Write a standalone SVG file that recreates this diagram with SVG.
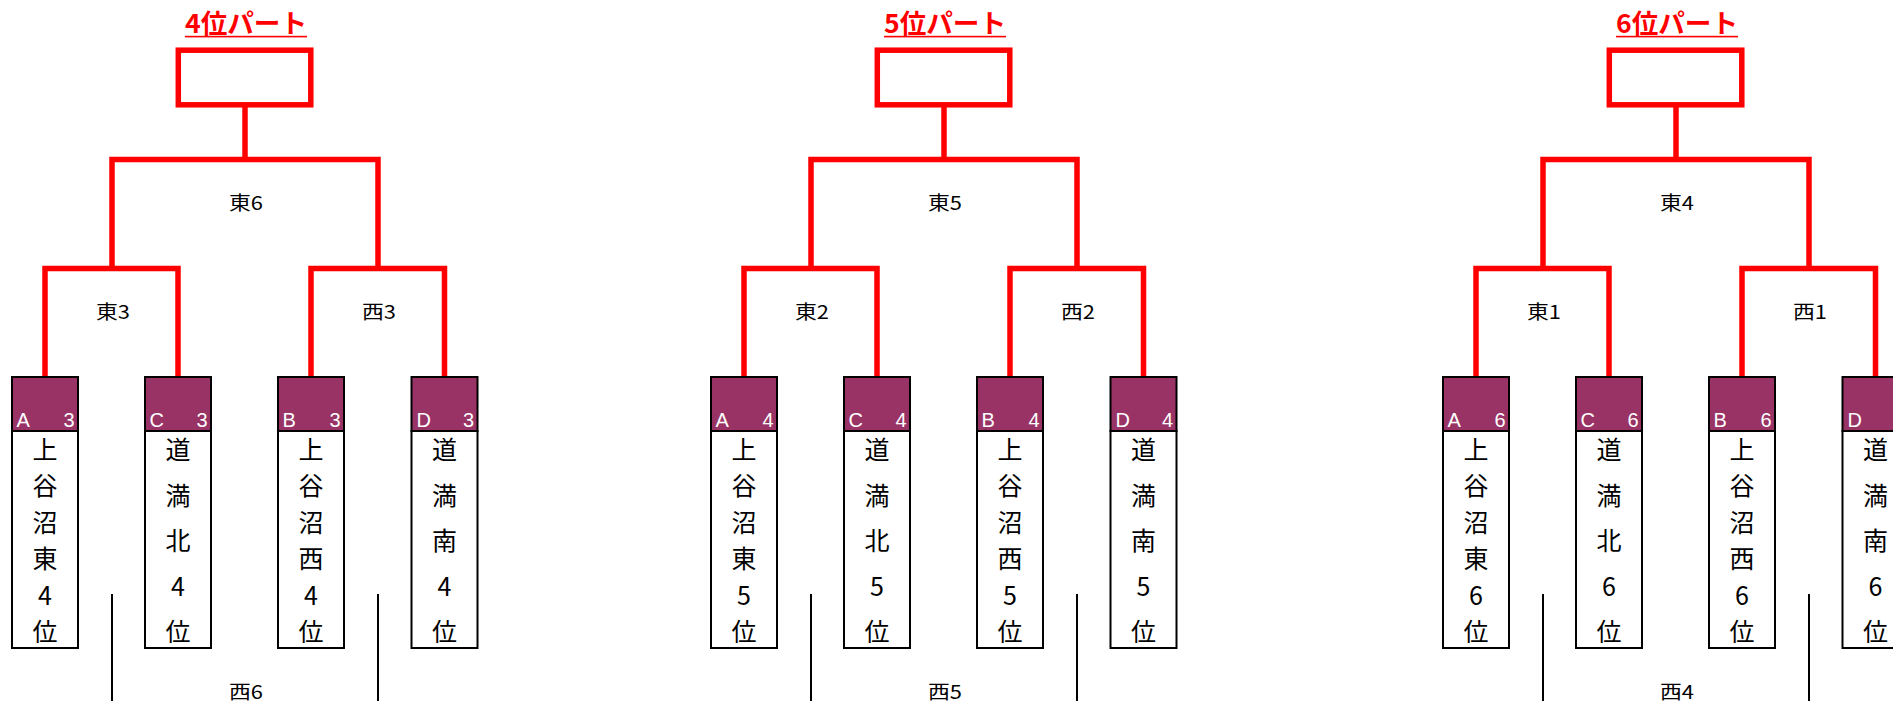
<svg xmlns="http://www.w3.org/2000/svg" width="1893" height="701" viewBox="0 0 1893 701">
<style>
.red{fill:none;stroke:#ff0000;stroke-width:5.5;stroke-linejoin:miter;stroke-linecap:butt}
.blk{stroke:#000;stroke-width:2;fill:none}
.hdr{fill:#993366;stroke:#000;stroke-width:2}
.body{fill:#fff;stroke:#000;stroke-width:2}
.ttl{font-family:"Noto Sans CJK JP",sans-serif;font-weight:bold;font-size:26px;fill:#ff0000;text-anchor:middle}
.lbl{font-family:"Noto Sans CJK JP",sans-serif;font-size:19px;fill:#000;text-anchor:middle;dominant-baseline:central}
.nm{font-family:"Noto Sans CJK JP",sans-serif;font-size:25px;fill:#000;text-anchor:middle;dominant-baseline:central}
.hl{font-family:"Liberation Sans",Arial,sans-serif;font-size:20px;fill:#fff}
.hr{font-family:"Liberation Sans",Arial,sans-serif;font-size:20px;fill:#fff;text-anchor:end}
</style>
<rect width="1893" height="701" fill="#fff"/>

<!-- ===== Section 1 ===== -->
<g id="part4" transform="translate(0,0)">
  <g id="connectors-4">
    <path class="red" d="M245,104.8V159.5"/>
    <path class="red" d="M112,268.5V159.5H378V268.5"/>
    <path class="red" d="M45,377V268.5H178V377"/>
    <path class="red" d="M311,377V268.5H444.5V377"/>
    <line class="blk" x1="112" y1="594" x2="112" y2="701"/>
    <line class="blk" x1="378" y1="594" x2="378" y2="701"/>
  </g>
  <g id="title-4">
    <text class="ttl" x="246" y="33" textLength="122" lengthAdjust="spacingAndGlyphs">4位パート</text>
    <rect x="185" y="35.8" width="122" height="1.6" fill="#ff0000"/>
  </g>
  <g id="final-4"><rect class="red" x="178.3" y="50.2" width="132.5" height="54.6"/></g>
  <g id="m-4-top"><text class="lbl" x="246" y="201.7" textLength="34" lengthAdjust="spacingAndGlyphs">東6</text></g>
  <g id="m-4-left"><text class="lbl" x="113" y="310.5" textLength="34" lengthAdjust="spacingAndGlyphs">東3</text></g>
  <g id="m-4-right"><text class="lbl" x="379" y="310.5" textLength="34" lengthAdjust="spacingAndGlyphs">西3</text></g>
  <g id="m-4-bottom"><text class="lbl" x="246" y="690.5" textLength="34" lengthAdjust="spacingAndGlyphs">西6</text></g>
  <g id="t-4-A">
    <rect class="hdr" x="12" y="377" width="66" height="54"/><rect class="body" x="12" y="431" width="66" height="217"/>
    <text class="hl" x="16.5" y="426.7">A</text><text class="hr" x="74.5" y="426.7">3</text>
    <text class="nm"><tspan x="45" y="447.5">上</tspan><tspan x="45" y="484">谷</tspan><tspan x="45" y="520.5">沼</tspan><tspan x="45" y="557">東</tspan><tspan x="45" y="593.5">4</tspan><tspan x="45" y="630">位</tspan></text>
  </g>
  <g id="t-4-C">
    <rect class="hdr" x="145" y="377" width="66" height="54"/><rect class="body" x="145" y="431" width="66" height="217"/>
    <text class="hl" x="149.5" y="426.7">C</text><text class="hr" x="207.5" y="426.7">3</text>
    <text class="nm"><tspan x="178" y="448">道</tspan><tspan x="178" y="493.5">満</tspan><tspan x="178" y="539">北</tspan><tspan x="178" y="584.5">4</tspan><tspan x="178" y="630">位</tspan></text>
  </g>
  <g id="t-4-B">
    <rect class="hdr" x="278" y="377" width="66" height="54"/><rect class="body" x="278" y="431" width="66" height="217"/>
    <text class="hl" x="282.5" y="426.7">B</text><text class="hr" x="340.5" y="426.7">3</text>
    <text class="nm"><tspan x="311" y="447.5">上</tspan><tspan x="311" y="484">谷</tspan><tspan x="311" y="520.5">沼</tspan><tspan x="311" y="557">西</tspan><tspan x="311" y="593.5">4</tspan><tspan x="311" y="630">位</tspan></text>
  </g>
  <g id="t-4-D">
    <rect class="hdr" x="411.5" y="377" width="66" height="54"/><rect class="body" x="411.5" y="431" width="66" height="217"/>
    <text class="hl" x="416.5" y="426.7">D</text><text class="hr" x="474" y="426.7">3</text>
    <text class="nm"><tspan x="444.5" y="448">道</tspan><tspan x="444.5" y="493.5">満</tspan><tspan x="444.5" y="539">南</tspan><tspan x="444.5" y="584.5">4</tspan><tspan x="444.5" y="630">位</tspan></text>
  </g>
</g>

<!-- ===== Section 2 ===== -->
<g id="part5" transform="translate(699,0)">
  <g id="connectors-5">
    <path class="red" d="M245,104.8V159.5"/>
    <path class="red" d="M112,268.5V159.5H378V268.5"/>
    <path class="red" d="M45,377V268.5H178V377"/>
    <path class="red" d="M311,377V268.5H444.5V377"/>
    <line class="blk" x1="112" y1="594" x2="112" y2="701"/>
    <line class="blk" x1="378" y1="594" x2="378" y2="701"/>
  </g>
  <g id="title-5">
    <text class="ttl" x="246" y="33" textLength="122" lengthAdjust="spacingAndGlyphs">5位パート</text>
    <rect x="185" y="35.8" width="122" height="1.6" fill="#ff0000"/>
  </g>
  <g id="final-5"><rect class="red" x="178.3" y="50.2" width="132.5" height="54.6"/></g>
  <g id="m-5-top"><text class="lbl" x="246" y="201.7" textLength="34" lengthAdjust="spacingAndGlyphs">東5</text></g>
  <g id="m-5-left"><text class="lbl" x="113" y="310.5" textLength="34" lengthAdjust="spacingAndGlyphs">東2</text></g>
  <g id="m-5-right"><text class="lbl" x="379" y="310.5" textLength="34" lengthAdjust="spacingAndGlyphs">西2</text></g>
  <g id="m-5-bottom"><text class="lbl" x="246" y="690.5" textLength="34" lengthAdjust="spacingAndGlyphs">西5</text></g>
  <g id="t-5-A">
    <rect class="hdr" x="12" y="377" width="66" height="54"/><rect class="body" x="12" y="431" width="66" height="217"/>
    <text class="hl" x="16.5" y="426.7">A</text><text class="hr" x="74.5" y="426.7">4</text>
    <text class="nm"><tspan x="45" y="447.5">上</tspan><tspan x="45" y="484">谷</tspan><tspan x="45" y="520.5">沼</tspan><tspan x="45" y="557">東</tspan><tspan x="45" y="593.5">5</tspan><tspan x="45" y="630">位</tspan></text>
  </g>
  <g id="t-5-C">
    <rect class="hdr" x="145" y="377" width="66" height="54"/><rect class="body" x="145" y="431" width="66" height="217"/>
    <text class="hl" x="149.5" y="426.7">C</text><text class="hr" x="207.5" y="426.7">4</text>
    <text class="nm"><tspan x="178" y="448">道</tspan><tspan x="178" y="493.5">満</tspan><tspan x="178" y="539">北</tspan><tspan x="178" y="584.5">5</tspan><tspan x="178" y="630">位</tspan></text>
  </g>
  <g id="t-5-B">
    <rect class="hdr" x="278" y="377" width="66" height="54"/><rect class="body" x="278" y="431" width="66" height="217"/>
    <text class="hl" x="282.5" y="426.7">B</text><text class="hr" x="340.5" y="426.7">4</text>
    <text class="nm"><tspan x="311" y="447.5">上</tspan><tspan x="311" y="484">谷</tspan><tspan x="311" y="520.5">沼</tspan><tspan x="311" y="557">西</tspan><tspan x="311" y="593.5">5</tspan><tspan x="311" y="630">位</tspan></text>
  </g>
  <g id="t-5-D">
    <rect class="hdr" x="411.5" y="377" width="66" height="54"/><rect class="body" x="411.5" y="431" width="66" height="217"/>
    <text class="hl" x="416.5" y="426.7">D</text><text class="hr" x="474" y="426.7">4</text>
    <text class="nm"><tspan x="444.5" y="448">道</tspan><tspan x="444.5" y="493.5">満</tspan><tspan x="444.5" y="539">南</tspan><tspan x="444.5" y="584.5">5</tspan><tspan x="444.5" y="630">位</tspan></text>
  </g>
</g>

<!-- ===== Section 3 ===== -->
<g id="part6" transform="translate(1431,0)">
  <g id="connectors-6">
    <path class="red" d="M245,104.8V159.5"/>
    <path class="red" d="M112,268.5V159.5H378V268.5"/>
    <path class="red" d="M45,377V268.5H178V377"/>
    <path class="red" d="M311,377V268.5H444.5V377"/>
    <line class="blk" x1="112" y1="594" x2="112" y2="701"/>
    <line class="blk" x1="378" y1="594" x2="378" y2="701"/>
  </g>
  <g id="title-6">
    <text class="ttl" x="246" y="33" textLength="122" lengthAdjust="spacingAndGlyphs">6位パート</text>
    <rect x="185" y="35.8" width="122" height="1.6" fill="#ff0000"/>
  </g>
  <g id="final-6"><rect class="red" x="178.3" y="50.2" width="132.5" height="54.6"/></g>
  <g id="m-6-top"><text class="lbl" x="246" y="201.7" textLength="34" lengthAdjust="spacingAndGlyphs">東4</text></g>
  <g id="m-6-left"><text class="lbl" x="113" y="310.5" textLength="34" lengthAdjust="spacingAndGlyphs">東1</text></g>
  <g id="m-6-right"><text class="lbl" x="379" y="310.5" textLength="34" lengthAdjust="spacingAndGlyphs">西1</text></g>
  <g id="m-6-bottom"><text class="lbl" x="246" y="690.5" textLength="34" lengthAdjust="spacingAndGlyphs">西4</text></g>
  <g id="t-6-A">
    <rect class="hdr" x="12" y="377" width="66" height="54"/><rect class="body" x="12" y="431" width="66" height="217"/>
    <text class="hl" x="16.5" y="426.7">A</text><text class="hr" x="74.5" y="426.7">6</text>
    <text class="nm"><tspan x="45" y="447.5">上</tspan><tspan x="45" y="484">谷</tspan><tspan x="45" y="520.5">沼</tspan><tspan x="45" y="557">東</tspan><tspan x="45" y="593.5">6</tspan><tspan x="45" y="630">位</tspan></text>
  </g>
  <g id="t-6-C">
    <rect class="hdr" x="145" y="377" width="66" height="54"/><rect class="body" x="145" y="431" width="66" height="217"/>
    <text class="hl" x="149.5" y="426.7">C</text><text class="hr" x="207.5" y="426.7">6</text>
    <text class="nm"><tspan x="178" y="448">道</tspan><tspan x="178" y="493.5">満</tspan><tspan x="178" y="539">北</tspan><tspan x="178" y="584.5">6</tspan><tspan x="178" y="630">位</tspan></text>
  </g>
  <g id="t-6-B">
    <rect class="hdr" x="278" y="377" width="66" height="54"/><rect class="body" x="278" y="431" width="66" height="217"/>
    <text class="hl" x="282.5" y="426.7">B</text><text class="hr" x="340.5" y="426.7">6</text>
    <text class="nm"><tspan x="311" y="447.5">上</tspan><tspan x="311" y="484">谷</tspan><tspan x="311" y="520.5">沼</tspan><tspan x="311" y="557">西</tspan><tspan x="311" y="593.5">6</tspan><tspan x="311" y="630">位</tspan></text>
  </g>
  <g id="t-6-D">
    <rect class="hdr" x="411.5" y="377" width="66" height="54"/><rect class="body" x="411.5" y="431" width="66" height="217"/>
    <text class="hl" x="416.5" y="426.7">D</text>
    <text class="nm"><tspan x="444.5" y="448">道</tspan><tspan x="444.5" y="493.5">満</tspan><tspan x="444.5" y="539">南</tspan><tspan x="444.5" y="584.5">6</tspan><tspan x="444.5" y="630">位</tspan></text>
  </g>
</g>
</svg>
